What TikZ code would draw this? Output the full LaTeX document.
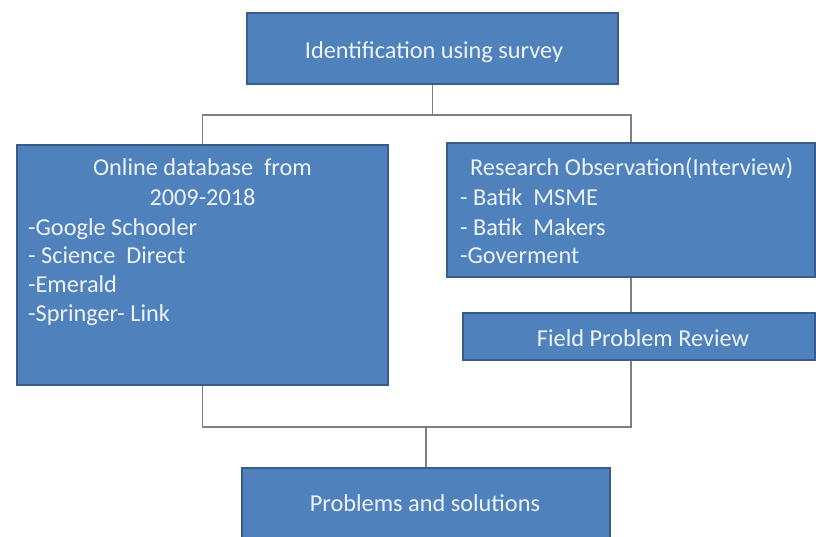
\documentclass[tikz,border=0pt]{standalone}
\usepackage{fontspec}
\setmainfont{Carlito}
\definecolor{boxfill}{HTML}{4F81BD}
\definecolor{boxline}{HTML}{385D8A}
\definecolor{conn}{HTML}{7F7F7F}
\definecolor{txt}{HTML}{EEF3FB}
\tikzset{
  blk/.style={draw=boxline, fill=boxfill, line width=1.3pt, rectangle, inner sep=0pt},
  lbl/.style={text=txt, inner sep=0pt, font=\fontsize{24.3}{29}\selectfont},
  conline/.style={draw=conn, line width=1.2pt}
}
\begin{document}
\begin{tikzpicture}[x=1pt,y=-1pt]
\useasboundingbox (0,0) rectangle (816,536);
\clip (0,0) rectangle (816,536);
% boxes
\node[blk, minimum width=371pt, minimum height=71pt] (top) at (432.5,48.5) {};
\node[blk, minimum width=371pt, minimum height=240pt] (left) at (202.5,265) {};
\node[blk, minimum width=368pt, minimum height=134pt] (right) at (631,210) {};
\node[blk, minimum width=352pt, minimum height=47pt] (field) at (639,336.5) {};
\node[blk, minimum width=368pt, minimum height=77pt] (bottom) at (426,506.5) {};
% connectors
\coordinate (j1) at (432.5,115);
\coordinate (j2) at (426,427);
\draw[conline] (top.south) -- (j1);
\draw[conline] (left.north) |- (j1) -| (right.north);
\draw[conline] (right.south) -- (right.south |- field.north);
\draw[conline] (left.south) |- (j2);
\draw[conline] (right.south |- field.south) |- (j2);
\draw[conline] (j2) -- (bottom.north);
% texts
\node[lbl, anchor=base] (t1) at (434,58) {Identification using survey};
\node[lbl, anchor=base] (l1) at (202.5,175) {Online database~ from};
\node[lbl, anchor=base] (l2) at (202.5,205) {2009-2018};
\node[lbl, anchor=base west] (l3) at (28,235) {-Google Schooler};
\node[lbl, anchor=base west] (l4) at (28,263) {- Science~ Direct};
\node[lbl, anchor=base west] (l5) at (28,292) {-Emerald};
\node[lbl, anchor=base west] (l6) at (28,321) {-Springer- Link};
\node[lbl, anchor=base west] (r1) at (470,175) {Research Observation(Interview)};
\node[lbl, anchor=base west] (r2) at (460,205) {- Batik~ MSME};
\node[lbl, anchor=base west] (r3) at (460,235) {- Batik~ Makers};
\node[lbl, anchor=base west] (r4) at (460,263) {-Goverment};
\node[lbl, anchor=base] (f1) at (643,346) {Field Problem Review};
\node[lbl, anchor=base] (b1) at (425,511) {Problems and solutions};
\end{tikzpicture}
\end{document}
